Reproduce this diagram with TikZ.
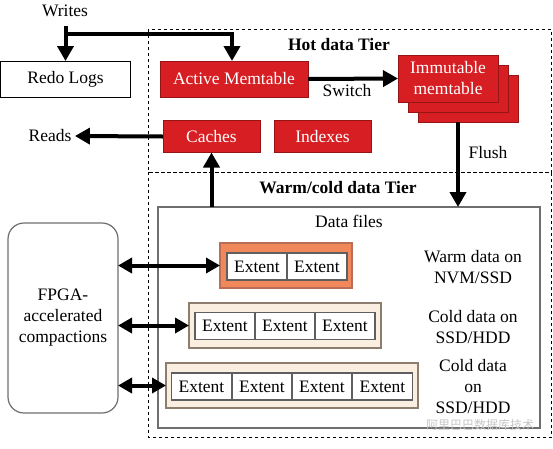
\documentclass[tikz,border=0pt]{standalone}
\usepackage{fontspec}
\setmainfont{Liberation Serif}
\newfontfamily\cjk{Noto Sans CJK SC}
\usetikzlibrary{arrows.meta}
\definecolor{hotred}{RGB}{215,30,35}
\definecolor{hotedge}{RGB}{150,20,20}
\definecolor{warmfill}{RGB}{240,136,92}
\definecolor{warmedge}{RGB}{185,110,85}
\definecolor{beige}{RGB}{250,238,225}
\definecolor{beigeedge}{RGB}{140,125,110}
\definecolor{cellgray}{RGB}{95,95,95}
\definecolor{filegray}{RGB}{110,110,110}
\begin{document}
\begin{tikzpicture}[x=1pt,y=-1pt,
  font=\fontsize{17.5}{21}\selectfont,
  box/.style={draw, line width=1pt, inner sep=0pt, outer sep=0pt, align=center},
  redbox/.style={box, fill=hotred, draw=hotedge, text=white},
  arr/.style={line width=4pt, -{Triangle[length=15pt,width=16pt]}},
  darr/.style={line width=4pt, {Triangle[length=14pt,width=15pt]}-{Triangle[length=14pt,width=15pt]}},
  tier/.style={dashed, line width=0.8pt},
  cell/.style={draw=cellgray, line width=1.2pt, fill=white, minimum width=60pt, minimum height=27pt, inner sep=0pt, outer sep=0pt},
  warmbox/.style={draw=warmedge, fill=warmfill, line width=1.5pt, minimum height=45pt, inner sep=0pt, outer sep=0pt},
  coldbox/.style={draw=beigeedge, fill=beige, line width=1.5pt, minimum height=45pt, inner sep=0pt, outer sep=0pt},
  lbl/.style={align=center, inner sep=0pt}
]
\useasboundingbox (0,0) rectangle (553,448);

% tiers
\draw[tier] (148,29) rectangle (551.5,172);
\draw[tier] (148,172) rectangle (551.5,437);
\node[font=\fontsize{17.5}{21}\selectfont\bfseries] (hot) at (339,45) {Hot data Tier};
\node[font=\fontsize{17.5}{21}\selectfont\bfseries] (warm) at (338,188) {Warm/cold data Tier};

% top nodes
\node (writes) at (65,11) {Writes};
\node[box, minimum width=130pt, minimum height=36pt] (redo) at (65.5,79) {Redo Logs};
\node[redbox, minimum width=148pt, minimum height=36pt] (active) at (234,79) {Active Memtable};
\node[redbox, minimum width=100pt, minimum height=47pt] (imm3) at (468,98.5) {};
\node[redbox, minimum width=100pt, minimum height=47pt] (imm2) at (458,88.5) {};
\node[redbox, minimum width=100pt, minimum height=47pt] (imm1) at (448,78.5) {Immutable\\memtable};
\node[redbox, minimum width=97pt, minimum height=32pt] (caches) at (211.5,136.5) {Caches};
\node[redbox, minimum width=97pt, minimum height=32pt] (indexes) at (322.5,136.5) {Indexes};
\node (reads) at (50,136) {Reads};
\node (switch) at (347,91) {Switch};
\node (flush) at (488,153) {Flush};

% data files
\node[draw=filegray, line width=1.5pt, minimum width=382pt, minimum height=221pt, inner sep=0pt, outer sep=0pt] (files) at (349,317.5) {};
\node (datafiles) at (349,221) {Data files};

% FPGA
\node[draw=filegray, line width=1.2pt, rounded corners=16pt, minimum width=110pt, minimum height=190pt, align=center, inner sep=0pt, outer sep=0pt] (fpga) at (63,318) {FPGA-\\accelerated\\compactions};

% rows
\node[warmbox, minimum width=132pt] (r1) at (286,265.5) {};
\node[cell] (e11) at (257,266.5) {Extent};
\node[cell] (e12) at (317,266.5) {Extent};

\node[coldbox, minimum width=192pt] (r2) at (285,325.5) {};
\node[cell] (e21) at (225,326) {Extent};
\node[cell] (e22) at (285,326) {Extent};
\node[cell] (e23) at (345,326) {Extent};

\node[coldbox, minimum width=252pt] (r3) at (292,385.5) {};
\node[cell] (e31) at (201.5,386.5) {Extent};
\node[cell] (e32) at (262,386.5) {Extent};
\node[cell] (e33) at (322,386.5) {Extent};
\node[cell] (e34) at (382.5,386.5) {Extent};

% right labels
\node[lbl] (l1) at (473,267) {Warm data on\\NVM/SSD};
\node[lbl] (l2) at (473,327) {Cold data on\\SSD/HDD};
\node[lbl] (l3) at (473,387) {Cold data\\on\\SSD/HDD};

% watermark
\node[text=gray!45, font=\cjk\fontsize{12}{12}\selectfont, inner sep=0pt] (wm) at (480,425) {阿里巴巴数据库技术};

% connectors
\coordinate (wtop) at (65.5,26);
\coordinate (wjoin) at (65.5,34);
\draw[arr] (wtop) -- (redo.north);
\draw[arr] (wjoin) -| ([xshift=-2pt]active.north);
\draw[arr] (active.east) -- (imm1.west);
\draw[arr] ([xshift=-10pt]imm3.south) -- ([xshift=-10pt]imm3.south |- files.north);
\draw[arr] (caches.south |- files.north) -- (caches.south);
\draw[arr] (caches.west) -- (reads.east);
\draw[darr] (fpga.east |- r1.west) -- (r1.west);
\draw[darr] (fpga.east |- r2.west) -- (r2.west);
\draw[darr] (fpga.east |- r3.west) -- (r3.west);
\end{tikzpicture}
\end{document}
